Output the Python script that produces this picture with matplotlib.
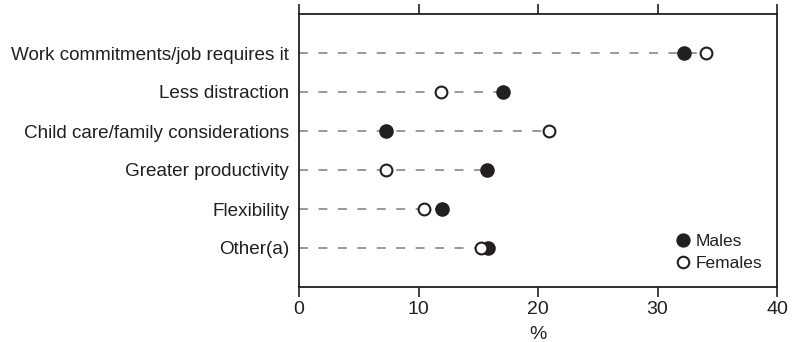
import matplotlib
matplotlib.use("Agg")
import matplotlib.pyplot as plt
from matplotlib.lines import Line2D

plt.rcParams['font.family'] = ['Liberation Sans', 'DejaVu Sans']

reasons = [
    "Work commitments/job requires it",
    "Less distraction",
    "Child care/family considerations",
    "Greater productivity",
    "Flexibility",
    "Other(a)",
]
males = [32.2, 17.1, 7.3, 15.7, 12.0, 15.8]
females = [34.1, 11.9, 20.9, 7.3, 10.5, 15.2]
x_ticks = [0, 10, 20, 30, 40]

fig = plt.figure(figsize=(7.96, 3.42), dpi=100)
ax = fig.add_axes([299 / 796, 1 - 287 / 342, 478 / 796, 273 / 342])

text_color = "#231f20"
for i, (m, f) in enumerate(zip(males, females)):
    ax.plot([0, max(m, f)], [i, i], ls=(0, (4.6, 5.4)), color="#999999",
            lw=1.4, zorder=1)

ax.scatter(males, range(len(reasons)), s=90, color=text_color,
           edgecolor=text_color, zorder=3)
ax.scatter(females, range(len(reasons)), s=72, facecolor="white",
           edgecolor=text_color, linewidth=1.5, zorder=3)

ax.set_xlim(0, 40)
ax.set_ylim(6, -1)
ax.set_xticks(x_ticks)
ax.set_yticks(range(len(reasons)))
ax.set_yticklabels(reasons, fontsize=13.6, color=text_color)
ax.tick_params(axis='y', length=0, pad=7)
ax.tick_params(axis='x', length=7, width=1.2, labelsize=14,
               colors=text_color, top=True, direction='out', pad=3)
ax.set_xlabel("%", fontsize=14, color=text_color, labelpad=6)
for s in ax.spines.values():
    s.set_linewidth(1.3)
    s.set_color(text_color)

handles = [
    Line2D([], [], marker='o', ls='none', markersize=9.3,
           markerfacecolor=text_color, markeredgecolor=text_color, label="Males"),
    Line2D([], [], marker='o', ls='none', markersize=8.3, markeredgewidth=1.5,
           markerfacecolor="white", markeredgecolor=text_color, label="Females"),
]
ax.legend(handles=handles, loc='lower right', bbox_to_anchor=(0.995, 0.015),
          frameon=False, fontsize=12.5, handletextpad=0.22, labelspacing=0.38,
          borderaxespad=0.3, handlelength=1.0, labelcolor=text_color)

fig.savefig("out.png", dpi=100)
